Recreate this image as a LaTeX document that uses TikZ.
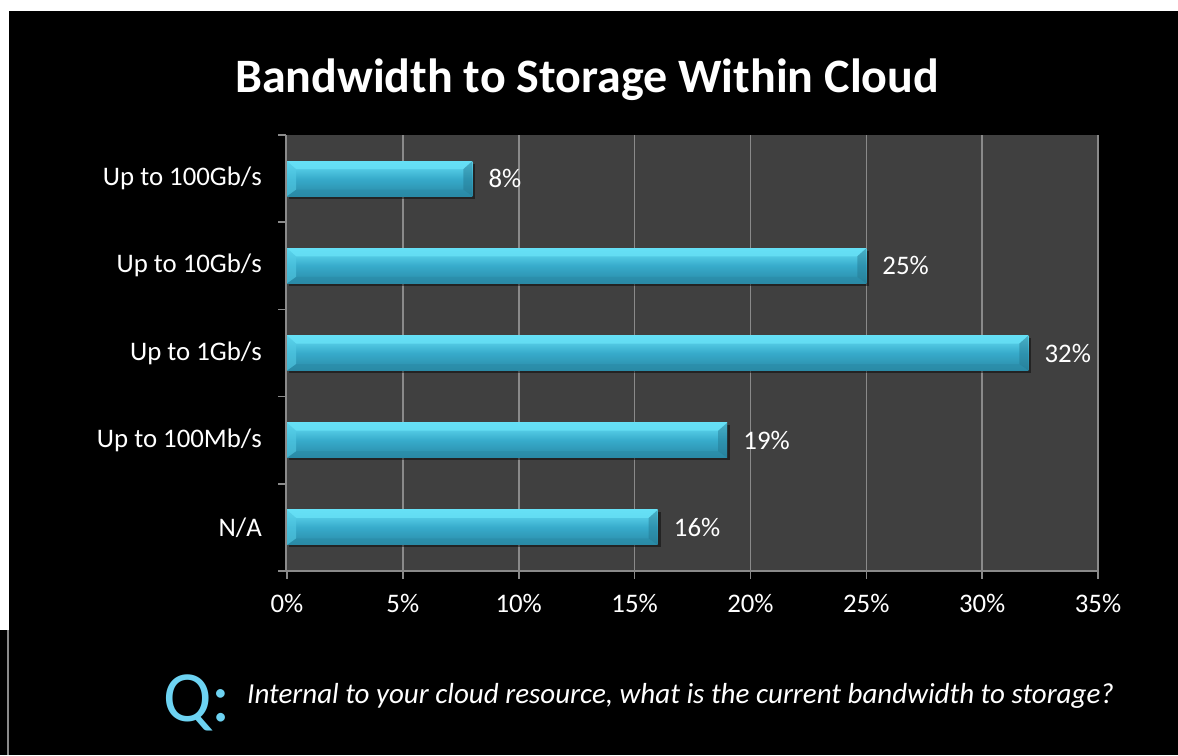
\documentclass[tikz,border=0pt]{standalone}
\usepackage{fontspec}
\setmainfont{Carlito}
\definecolor{plotbg}{HTML}{404040}
\definecolor{gridgrey}{HTML}{8A8A8A}
\definecolor{bartop}{HTML}{66E0F6}
\definecolor{barmid}{HTML}{37ABCB}
\definecolor{barlow}{HTML}{2A8AA6}
\definecolor{qblue}{HTML}{6DD3F2}
\tikzset{
  lbl/.style={text=white,font=\fontsize{26.8}{30}\selectfont,inner sep=2pt},
  catlbl/.style={lbl,anchor=east},
  vallbl/.style={lbl,anchor=west},
  ticklbl/.style={lbl,anchor=north},
  gridln/.style={draw=gridgrey,line width=1.6pt},
}
\begin{document}
\begin{tikzpicture}[x=1pt,y=-1pt]
% page and slide background
\fill[white] (0,0) rectangle (1178,755);
\fill[black] (9,11) rectangle (1178,630);
\fill[black] (0,630) rectangle (1178,755);
\draw[gridgrey,line width=1.2pt] (8,630) -- (8,755);
\useasboundingbox (0,0) rectangle (1178,755);
% title
\node[text=white,font=\fontsize{48}{54}\selectfont\bfseries] (title) at (587,80) {Bandwidth to Storage Within Cloud};
% plot area and grid
\fill[plotbg] (287,135) rectangle (1099,571);
\foreach \i in {1,...,7}{\draw[gridln] (287+115.86*\i,135) -- (287+115.86*\i,571);}
% axes with ticks
\draw[gridln] (286,135) -- (286,571);
\draw[gridln] (278,571) -- (1099,571);
\foreach \j in {0,...,5}{\draw[gridln] (278,135+87.2*\j) -- (286,135+87.2*\j);}
\foreach \i in {0,...,7}{\draw[gridln] (287+115.86*\i,571) -- (287+115.86*\i,579);}
% x tick labels
\foreach \i in {0,...,7}{\pgfmathtruncatemacro{\pc}{5*\i}\node[ticklbl] (tick\i) at (287+115.86*\i,592) {\pc\%};}
% bars, one per band
\foreach \v/\j/\lab in {8/0/Up to 100Gb\slash s,25/1/Up to 10Gb\slash s,32/2/Up to 1Gb\slash s,19/3/Up to 100Mb\slash s,16/4/N\slash A}{
  \pgfmathsetmacro{\yc}{178.6+87.2*\j}
  \pgfmathsetmacro{\xe}{287+23.17*\v}
  \fill[black,opacity=0.45] (289,\yc-15) rectangle (\xe+3,\yc+20);
  \shade[top color=bartop,bottom color=barlow,middle color=barmid] (287,\yc-17.5) rectangle (\xe,\yc+17.5);
  \fill[bartop,opacity=0.85] (287,\yc-17.5) -- (\xe,\yc-17.5) -- (\xe-9,\yc-9.5) -- (296,\yc-9.5) -- cycle;
  \fill[barlow,opacity=0.5] (287,\yc+17.5) -- (\xe,\yc+17.5) -- (\xe-9,\yc+11) -- (296,\yc+11) -- cycle;
  \fill[barlow!85!black,opacity=0.45] (\xe,\yc-17.5) -- (\xe,\yc+17.5) -- (\xe-9,\yc+11) -- (\xe-9,\yc-9.5) -- cycle;
  \fill[bartop!60!barmid,opacity=0.6] (287,\yc-17.5) -- (296,\yc-9.5) -- (296,\yc+11) -- (287,\yc+17.5) -- cycle;
  \node[catlbl] (cat\j) at (264,\yc) {\lab};
  \node[vallbl] (val\j) at (\xe+14,\yc) {\v\%};
}
% question line
\node[text=qblue,font=\fontsize{72}{80}\selectfont,anchor=base west,inner sep=0pt] (qmark) at (163,721) {Q:};
\node[text=white,font=\fontsize{29}{34}\selectfont\itshape,anchor=base west,inner sep=0pt] (question) at (247,703) {Internal to your cloud resource, what is the current bandwidth to storage?};
\end{tikzpicture}
\end{document}
